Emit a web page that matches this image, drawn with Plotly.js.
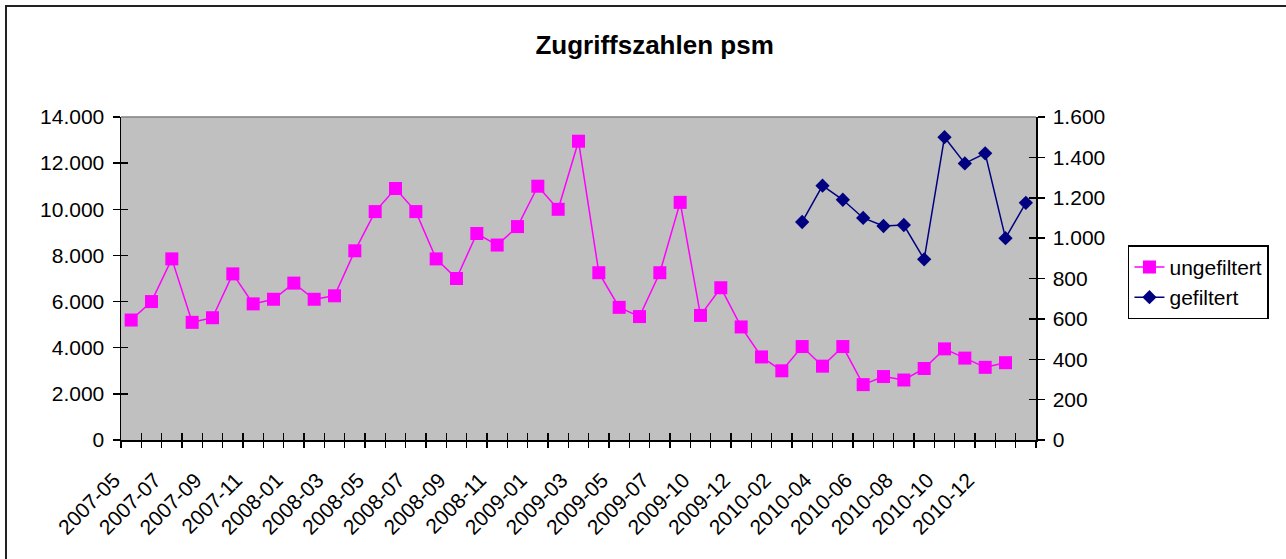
<!DOCTYPE html>
<html>
<head>
<meta charset="utf-8">
<script src="https://cdn.plot.ly/plotly-3.0.1.min.js"></script>
<style>
html,body{margin:0;padding:0;background:#fff;overflow:hidden;}
#chart{width:1286px;height:559px;position:absolute;left:0;top:0;}
#frame{position:absolute;left:5px;top:5px;width:1400px;height:700px;border:2px solid #222;pointer-events:none;}
</style>
</head>
<body>
<div id="chart"></div>
<div id="frame"></div>
<script>
// Categories (months); one month is missing between 2009-07 and 2009-10
const categories = [
  "2007-05","2007-06","2007-07","2007-08","2007-09","2007-10","2007-11","2007-12",
  "2008-01","2008-02","2008-03","2008-04","2008-05","2008-06","2008-07","2008-08",
  "2008-09","2008-10","2008-11","2008-12","2009-01","2009-02","2009-03","2009-04",
  "2009-05","2009-06","2009-07","2009-08","2009-10","2009-11","2009-12","2010-01",
  "2010-02","2010-03","2010-04","2010-05","2010-06","2010-07","2010-08","2010-09",
  "2010-10","2010-11","2010-12","2011-01","2011-02"
];
// ungefiltert (left axis)
const ungefiltert = [
  5200,6000,7850,5100,5300,7200,5900,6100,
  6800,6100,6250,8200,9900,10900,9900,7850,
  7000,8950,8450,9250,11000,10000,12950,7250,
  5750,5350,7250,10300,5400,6600,4900,3600,
  3000,4050,3200,4050,2400,2750,2600,3100,
  3950,3550,3150,3350,null
];
// gefiltert (right axis)
const gefiltert = [
  null,null,null,null,null,null,null,null,
  null,null,null,null,null,null,null,null,
  null,null,null,null,null,null,null,null,
  null,null,null,null,null,null,null,null,
  null,1080,1260,1190,1100,1060,1065,895,
  1500,1370,1420,1000,1175
];
const seriesNames = ["ungefiltert","gefiltert"];
const leftTicks = [0,2000,4000,6000,8000,10000,12000,14000];
const rightTicks = [0,200,400,600,800,1000,1200,1400,1600];
// labelled categories: every second one, up to 2010-12
const labelledCategories = categories.filter((c,i)=>i%2===0 && i<=categories.indexOf("2010-12"));

const idx = categories.map((c,i)=>i);
const labelIdx = labelledCategories.map(c=>categories.indexOf(c));
const boundaries = [];
for (let i=0;i<=categories.length;i++) boundaries.push(i-0.5);
const xr = [-0.5, categories.length-0.5];

const FONT = "Liberation Sans, Arial, sans-serif";
const FS = 21;

const traces = [
  {x: idx, y: ungefiltert, name: seriesNames[0], type:"scatter", mode:"lines+markers",
   xaxis:"x", yaxis:"y", connectgaps:false,
   line:{color:"#FF00FF", width:1.5},
   marker:{symbol:"square", size:13, color:"#FF00FF"}},
  {x: idx, y: gefiltert, name: seriesNames[1], type:"scatter", mode:"lines+markers",
   xaxis:"x", yaxis:"y2", connectgaps:false,
   line:{color:"#000080", width:1.5},
   marker:{symbol:"diamond", size:11, color:"#000080"}}
];
// invisible helper traces so the tick-mark overlay axes get drawn
[["x3","y"],["x4","y"],["x","y3"],["x","y4"]].forEach(([xa,ya])=>{
  traces.push({x: idx, y: ya==="y4" ? gefiltert : ungefiltert, xaxis:xa, yaxis:ya,
    type:"scatter", mode:"lines", opacity:0, showlegend:false, hoverinfo:"skip",
    line:{width:0}});
});

const tickAxis = (extra)=>Object.assign({
  range: xr, tickmode:"array", tickvals: boundaries, showticklabels:false,
  ticklen:7, tickwidth:1.5, tickcolor:"#000", showgrid:false, zeroline:false,
  showline:false, fixedrange:true
}, extra);

const layout = {
  width:1286, height:559,
  margin:{l:121, r:250, t:117, b:119, pad:0},
  paper_bgcolor:"#fff", plot_bgcolor:"#C0C0C0",
  separators:",.",
  font:{family:FONT, size:FS, color:"#000"},
  title:{text:"<b>Zugriffszahlen psm</b>", font:{family:FONT, size:26, color:"#000"},
         xref:"container", x:0.509, xanchor:"center", yref:"container", y:1-45/559, yanchor:"middle"},
  showlegend:true,
  legend:{x:1.1005, y:0.603, xanchor:"left", yanchor:"top",
          bgcolor:"#fff", bordercolor:"#000", borderwidth:1.5,
          font:{family:FONT, size:FS, color:"#000"}},
  xaxis:{range: xr, tickmode:"array", tickvals: labelIdx, ticktext: labelledCategories,
         tickangle:-45, ticks:"", showgrid:false, zeroline:false,
         showline:true, linecolor:"#000", linewidth:1.5,
         ticklabelstandoff:18, ticklabelshift:-17,
         tickfont:{family:FONT, size:FS, color:"#000"}, anchor:"y", fixedrange:true},
  xaxis3: tickAxis({overlaying:"x", anchor:"y", ticks:"outside"}),
  xaxis4: tickAxis({overlaying:"x", anchor:"y", ticks:"inside"}),
  yaxis:{range:[0,14000], tickmode:"array", tickvals:leftTicks, tickformat:",d", separatethousands:true,
         ticks:"outside", ticklen:7, tickwidth:1.5, tickcolor:"#000",
         showline:true, linecolor:"#000", linewidth:1.5, showgrid:false, zeroline:false,
         tickfont:{family:FONT, size:FS, color:"#000"}, ticklabelstandoff:4, fixedrange:true},
  yaxis3:{overlaying:"y", range:[0,14000], tickmode:"array", tickvals:leftTicks, showticklabels:false,
          ticks:"inside", ticklen:7, tickwidth:1.5, tickcolor:"#000",
          showline:false, showgrid:false, zeroline:false, fixedrange:true},
  yaxis2:{overlaying:"y", side:"right", range:[0,1600], tickmode:"array", tickvals:rightTicks,
          tickformat:",d", separatethousands:true,
          ticks:"outside", ticklen:7, tickwidth:1.5, tickcolor:"#000",
          showline:true, linecolor:"#000", linewidth:1.5, showgrid:false, zeroline:false,
          tickfont:{family:FONT, size:FS, color:"#000"}, ticklabelstandoff:4, fixedrange:true},
  yaxis4:{overlaying:"y", side:"right", range:[0,1600], tickmode:"array", tickvals:rightTicks, showticklabels:false,
          ticks:"inside", ticklen:7, tickwidth:1.5, tickcolor:"#000",
          showline:false, showgrid:false, zeroline:false, fixedrange:true},
  shapes:[{type:"line", xref:"paper", yref:"paper", x0:0, x1:1, y0:1, y1:1,
           line:{color:"#808080", width:1.5}}]
};

Plotly.newPlot("chart", traces, layout, {displayModeBar:false, staticPlot:true});
</script>
</body>
</html>
